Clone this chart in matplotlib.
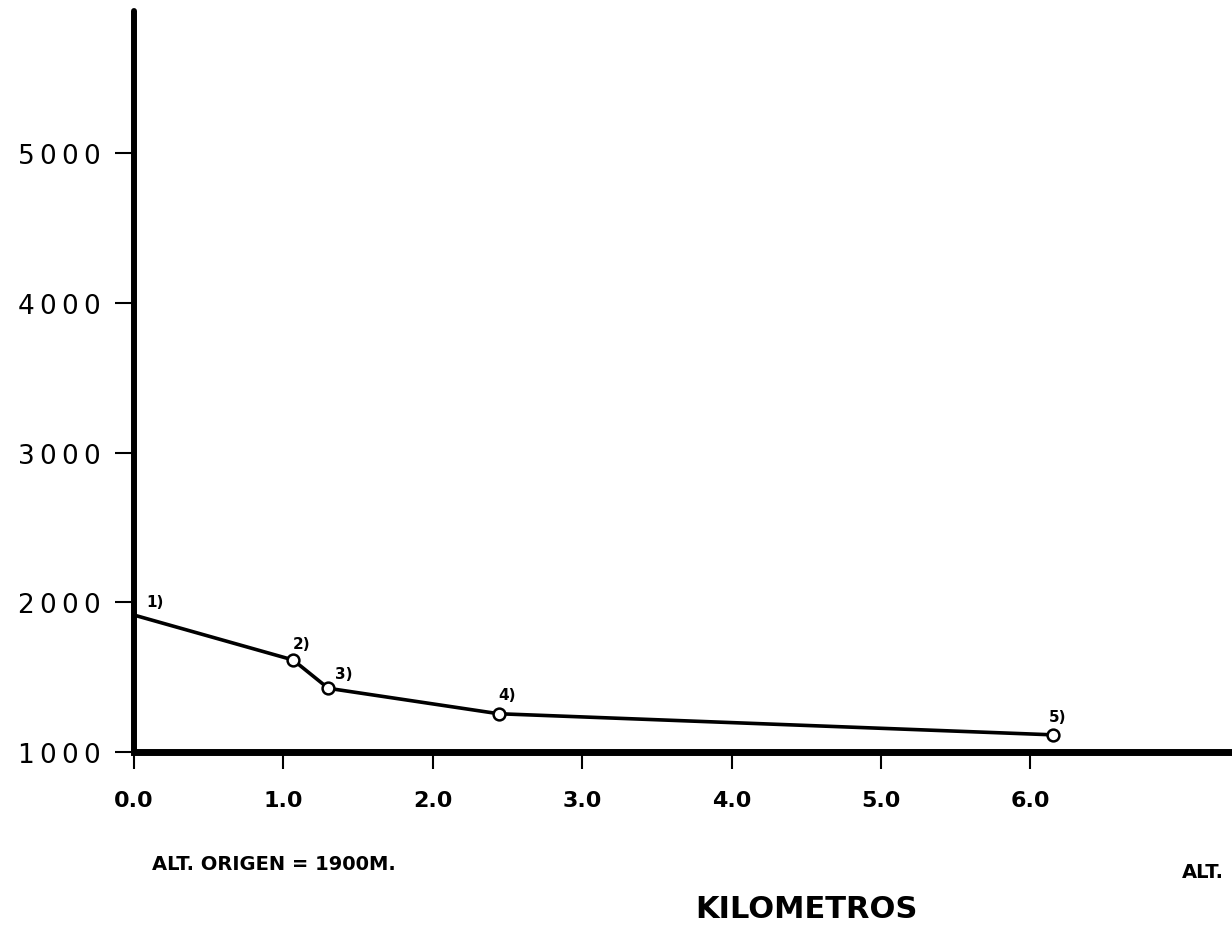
import matplotlib
matplotlib.use("Agg")
import matplotlib.pyplot as plt

# altitude profile along the route (km, m)
km = [0.0, 1.065, 1.30, 2.44, 6.15]
alt = [1915, 1615, 1426, 1256, 1115]
point_labels = ["1)", "2)", "3)", "4)", "5)"]

x_ticks = [0, 1, 2, 3, 4, 5, 6]
x_tick_labels = ["0.0", "1.0", "2.0", "3.0", "4.0", "5.0", "6.0"]
y_ticks = [1000, 2000, 3000, 4000, 5000]
y_tick_labels = ["1000", "2000", "3000", "4000", "5000"]

# label offsets in points (dx, dy) from each marker
label_offsets = [(9, 10), (0, 12), (5, 11), (0, 14), (-3, 13)]

fig = plt.figure(figsize=(12.32, 9.29), dpi=100)
ax = fig.add_axes([0.1088, 0.1894, 0.8912, 0.7976])

ax.plot(km, alt, color="black", lw=2.6, zorder=3)
ax.plot(km[1:], alt[1:], "o", color="black", mfc="white", mec="black",
        ms=8.5, mew=1.8, zorder=4)

for x, y, lab, (dx, dy) in zip(km, alt, point_labels, label_offsets):
    ax.annotate(lab, (x, y), xytext=(dx, dy), textcoords="offset points",
                ha="left", va="center", fontsize=11, fontweight="bold")

ax.set_xlim(0, 7.35)
ax.set_ylim(1000, 5950)

for s in ["top", "right"]:
    ax.spines[s].set_visible(False)
ax.spines["left"].set_linewidth(4.3)
ax.spines["bottom"].set_linewidth(5.0)
ax.spines["left"].set_capstyle("round")

ax.set_xticks(x_ticks)
ax.set_xticklabels(x_tick_labels, fontsize=16, fontweight="bold")
ax.set_yticks(y_ticks)
ax.set_yticklabels(["\u2009".join(t) for t in y_tick_labels], fontsize=19)
ax.tick_params(axis="x", direction="out", length=12, width=1.5, pad=15)
ax.tick_params(axis="y", direction="out", length=14, width=1.5, pad=10)

fig.text(0.1234, 0.0689, "ALT. ORIGEN = 1900M.", fontsize=14,
         fontweight="bold", ha="left", va="center")
fig.text(0.9594, 0.0603, "ALT.", fontsize=14, fontweight="bold",
         ha="left", va="center")
fig.text(0.564, 0.0205, "KILOMETROS", fontsize=22, fontweight="bold",
         ha="left", va="center")

fig.savefig("out.png", dpi=100)
